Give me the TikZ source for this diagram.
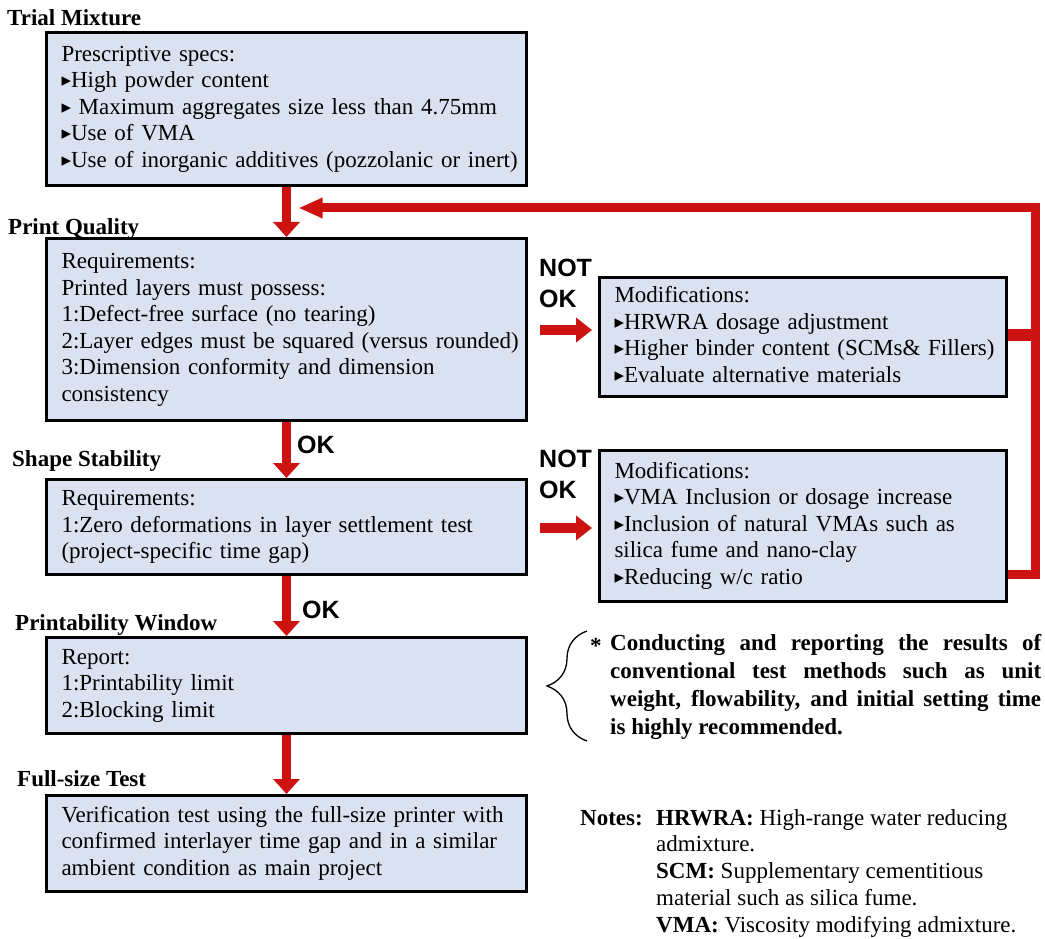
\documentclass[tikz,border=0pt]{standalone}
\usepackage{fontspec}
\setmainfont{Liberation Serif}
\newfontfamily\symfont{DejaVu Sans}
\newfontfamily\lblfont{Liberation Sans}
\usetikzlibrary{arrows.meta,decorations.pathreplacing}
\definecolor{boxfill}{RGB}{218,226,242}
\definecolor{flowred}{RGB}{205,18,18}
% small triangular bullet
\newcommand{\tri}{{\symfont\fontsize{19}{19}\selectfont\raisebox{1pt}{▸}}}
% stacked lines that never rewrap
\newcommand{\rows}[1]{\begin{tabular}{@{}l@{}}#1\end{tabular}}
\newcommand{\toprows}[1]{\begin{tabular}[t]{@{}l@{}}#1\end{tabular}}

\begin{document}
\begin{tikzpicture}[x=1pt,y=-1pt,
  box/.style={draw=black, line width=3pt, fill=boxfill, rectangle, align=left,
    inner xsep=15pt, inner ysep=0pt, font=\fontsize{23}{26.5}\selectfont},
  wide/.style={text width=450pt, minimum width=480pt},
  modbox/.style={text width=377pt, minimum width=407pt},
  stage/.style={anchor=base west, inner sep=0pt, font=\bfseries\fontsize{23}{26}\selectfont},
  okay/.style={inner sep=0pt, align=left, font=\lblfont\bfseries\fontsize{25}{31}\selectfont},
  flow/.style={draw=flowred, line width=9pt, -{Triangle[width=26pt,length=15pt]}},
  side/.style={draw=flowred, line width=10pt, -{Triangle[width=24pt,length=16pt]},
    shorten <=12pt, shorten >=6pt},
  loopline/.style={draw=flowred, line width=9pt, line join=miter}
]
\useasboundingbox (0,0) rectangle (1045,939);

% stage headings
\node[stage] (h1) at (7,26) {Trial Mixture};
\node[stage] (h2) at (8,234) {Print Quality};
\node[stage] (h3) at (12,466) {Shape Stability};
\node[stage] (h4) at (15,630) {Printability Window};
\node[stage] (h5) at (17,786) {Full-size Test};

% main column
\node[box, wide, minimum height=153pt] (b1) at (286.5,109) {\rows{Prescriptive specs:\\
  \tri High powder content\\
  \tri\ Maximum aggregates size less than 4.75mm\\
  \tri Use of VMA\\
  \tri Use of inorganic additives (pozzolanic or inert)}};
\node[box, wide, minimum height=182pt] (b2) at (286.5,329.5) {\rows{Requirements:\\
  Printed layers must possess:\\
  1:Defect-free surface (no tearing)\\
  2:Layer edges must be squared (versus rounded)\\
  3:Dimension conformity and dimension\\
  consistency}};
\node[box, wide, minimum height=95pt] (b3) at (286.5,527) {\rows{Requirements:\\
  1:Zero deformations in layer settlement test\\
  (project-specific time gap)}};
\node[box, wide, minimum height=96pt] (b4) at (286.5,685.5) {\rows{Report:\\
  1:Printability limit\\
  2:Blocking limit}};
\node[box, wide, minimum height=96pt] (b5) at (286.5,843.5) {\rows{Verification test using the full-size printer with\\
  confirmed interlayer time gap and in a similar\\
  ambient condition as main project}};

% modification boxes
\node[box, modbox, minimum height=119pt] (m1) at (803,337) {\rows{Modifications:\\
  \tri HRWRA dosage adjustment\\
  \tri Higher binder content (SCMs\& Fillers)\\
  \tri Evaluate alternative materials}};
\node[box, modbox, minimum height=151pt] (m2) at (803,526) {\rows{Modifications:\\
  \tri VMA Inclusion or dosage increase\\
  \tri Inclusion of natural VMAs such as\\
  silica fume and nano-clay\\
  \tri Reducing w/c ratio}};

% feedback loop back to the print quality stage
\coordinate (loopTop) at (1035,208);
\coordinate (loopBot) at (1035,574);
\draw[flowred, line width=12pt] (m1.east |- 0,335) -- (loopTop |- 0,335);
\draw[loopline, -{Triangle[width=19pt,length=24pt]}, shorten >=12pt]
  (m2.east |- loopBot) -- (loopBot) -- (loopTop) -- (b1.south |- loopTop);

% downward flow
\draw[flow] (b1.south) -- (b2.north);
\draw[flow] (b2.south) -- (b3.north);
\draw[flow] (b3.south) -- (b4.north);
\draw[flow] (b4.south) -- (b5.north);
\node[okay, anchor=west] (ok1) at (297,445) {OK};
\node[okay, anchor=west] (ok2) at (302,610) {OK};

% sideways branches
\draw[side] (b2.east |- 0,330) -- (m1.west |- 0,330);
\draw[side] (b3.east |- 0,528) -- (m2.west |- 0,528);
\node[okay, anchor=north west] (nok1) at (539,259) {NOT\\OK};
\node[okay, anchor=north west] (nok2) at (539,450) {NOT\\OK};

% recommendation beside the printability window
\draw[line width=1.3pt, decorate, decoration={brace, amplitude=40pt}]
  (587,741) -- (587,631);
\node[anchor=base west, inner sep=0pt, font=\bfseries\fontsize{23}{28}\selectfont] (star) at (590,653) {*};
\node[anchor=north west, inner sep=0pt, text width=431pt, align=justify,
  font=\bfseries\fontsize{23}{28}\selectfont] (rec) at (610,634)
  {Conducting and reporting the results of\linebreak
   conventional test methods such as unit\linebreak
   weight, flowability, and initial setting time\linebreak
   is highly recommended.};

% abbreviations
\node[anchor=base west, inner sep=0pt, font=\bfseries\fontsize{23}{26.8}\selectfont] (notes) at (580,825) {Notes:};
\node[anchor=base west, inner sep=0pt, font=\fontsize{23}{26.8}\selectfont] (abbr) at (656,825)
  {\toprows{\textbf{HRWRA:} High-range water reducing\\
    admixture.\\
    \textbf{SCM:} Supplementary cementitious\\
    material such as silica fume.\\
    \textbf{VMA:} Viscosity modifying admixture.}};
\end{tikzpicture}
\end{document}
